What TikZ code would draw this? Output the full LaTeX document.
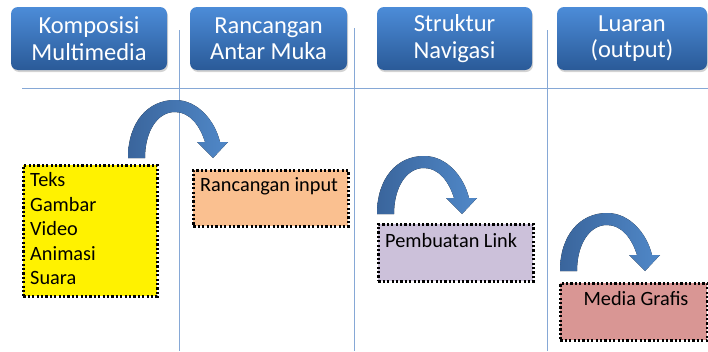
\documentclass[tikz,border=0pt]{standalone}
\usepackage{fontspec}
\setmainfont{Carlito}
\usetikzlibrary{shadows}
\definecolor{hdtop}{HTML}{4C8CD8}
\definecolor{hdbot}{HTML}{2A5A98}
\definecolor{gridc}{HTML}{86A8D6}
\definecolor{arrL}{HTML}{3A659C}
\definecolor{arrR}{HTML}{5088C8}
\definecolor{orangef}{HTML}{FAC090}
\definecolor{purplef}{HTML}{CCC1DA}
\definecolor{redf}{HTML}{D99694}
\tikzset{
  header/.style={draw=none, rounded corners=7pt, top color=hdtop, bottom color=hdbot,
    text=white, align=center, font=\fontsize{24.5}{26.5}\selectfont,
    minimum width=156pt, minimum height=63pt, inner sep=0pt,
    drop shadow={opacity=0.35, shadow xshift=1pt, shadow yshift=-2pt}},
  grid/.style={draw=gridc, line width=0.9pt},
  dotbox/.style={draw=black, line width=2.6pt, dash pattern=on 2.2pt off 2.2pt,
    anchor=north west, inner sep=0pt},
  bodytext/.style={font=\fontsize{20.3}{24.5}\selectfont, inner sep=0pt},
  curvearrow/.style={left color=arrL, right color=arrR, draw=none}
}
\newcommand{\curvedarrow}[2]{%
  \fill[curvearrow, shift={(#1,#2)}]
    (0,0) .. controls (0,-36) and (20,-58) .. (47,-58)
    .. controls (70,-58) and (87,-37) .. (92,-16)
    -- (100,-16) -- (85,0) -- (69,-16) -- (77,-16)
    .. controls (72,-32) and (62,-46) .. (47,-46)
    .. controls (29,-46) and (17,-26) .. (17,0) -- cycle;}
\begin{document}
\begin{tikzpicture}[x=1pt, y=-1pt]
\useasboundingbox (0,0) rectangle (708,351);
% grid lines
\coordinate (h1) at (22,88);
\coordinate (h2) at (708,88);
\coordinate (v1t) at (179,30);
\coordinate (v1b) at (179,351);
\coordinate (v2t) at (354,28);
\coordinate (v2b) at (354,351);
\coordinate (v3t) at (547,30);
\coordinate (v3b) at (547,351);
\draw[grid] (h1) -- (h2);
\draw[grid] (v1t) -- (v1b);
\draw[grid] (v2t) -- (v2b);
\draw[grid] (v3t) -- (v3b);
% headers
\node[header] (hA) at (89,38.5) {Komposisi\\Multimedia};
\node[header, minimum width=157pt] (hB) at (268.5,38.5) {Rancangan\\Antar Muka};
\node[header, minimum width=155pt] (hC) at (454.5,38.5) {Struktur\\Navigasi};
\node[header, minimum width=150pt] (hD) at (632,38.5) {Luaran\\(output)};
% boxes
\node[dotbox, fill=yellow, minimum width=134pt, minimum height=131pt] (kom) at (22,164) {};
\node[bodytext, anchor=north west, align=left] (komt) at (30,172.5) {Teks\\Gambar\\Video\\Animasi\\Suara};
\node[dotbox, fill=orangef, minimum width=155pt, minimum height=56pt] (ran) at (192,169) {};
\node[bodytext, anchor=base west] (rant) at (200,191) {Rancangan input};
\node[dotbox, fill=purplef, minimum width=155pt, minimum height=57pt] (pem) at (377,223) {};
\node[bodytext, anchor=base west] (pemt) at (385,247) {Pembuatan Link};
\node[dotbox, fill=redf, minimum width=147pt, minimum height=57pt] (med) at (559,282) {};
\node[bodytext, anchor=base] (medt) at (636,305) {Media Grafis};
% curved arrows
\curvedarrow{128}{158}
\curvedarrow{377}{214}
\curvedarrow{560}{271}
\end{tikzpicture}
\end{document}
